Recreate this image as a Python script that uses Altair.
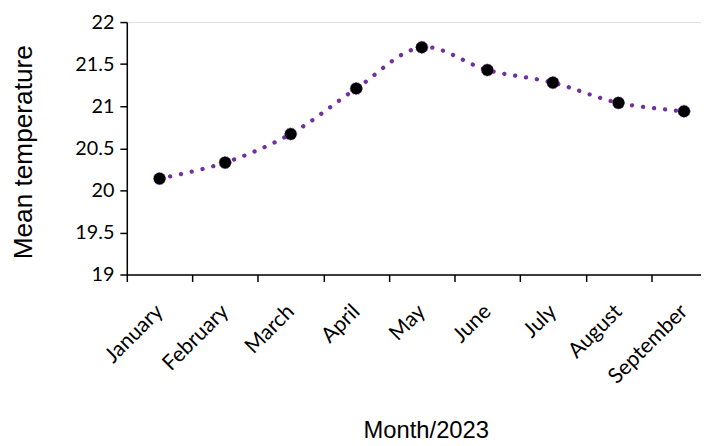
import altair as alt
import pandas as pd

months = ["January", "February", "March", "April", "May", "June", "July", "August", "September"]
temps = [20.14, 20.33, 20.67, 21.21, 21.70, 21.43, 21.28, 21.04, 20.94]

df = pd.DataFrame({"Month": months, "Temp": temps})

x = alt.X("Month:N", sort=months, scale=alt.Scale(paddingInner=0, paddingOuter=0),
          axis=alt.Axis(title="Month/2023", labelAngle=-45, labelAlign="right", labelBaseline="middle",
                        tickBand="extent", tickSize=7, tickColor="black", domainColor="black",
                        labelFont="Lato", labelFontSize=21.5, labelColor="black", labelPadding=27,
                        titleFont="Liberation Sans", titleFontSize=24, titleFontWeight="normal",
                        titleColor="black", titleX=302, titleY=158, titleBaseline="middle",
                        titleAlign="center", grid=False, domainWidth=1.5, tickWidth=1.5))
y = alt.Y("Temp:Q", scale=alt.Scale(domain=[19, 22], nice=False, zero=False),
          axis=alt.Axis(title="Mean temperature", values=[19, 19.5, 20, 20.5, 21, 21.5, 22],
                        format="~g", tickSize=7, tickColor="black", domainColor="black",
                        labelFont="Lato", labelFontSize=20, labelColor="black", labelPadding=6,
                        titleFont="Liberation Sans", titleFontSize=26.5, titleFontWeight="normal",
                        titleColor="black", titleX=-104, titleY=131, titleBaseline="middle",
                        titleAlign="center", grid=False, domainWidth=1.5, tickWidth=1.5))

line = alt.Chart(df).mark_line(color="#7030A0", strokeWidth=4.3, strokeCap="round",
                               strokeDash=[0.1, 11], interpolate="catmull-rom").encode(x=x, y=y)
pts = alt.Chart(df).mark_point(filled=True, color="black", size=150, opacity=1,
                               stroke="#7030A0", strokeWidth=0.8, strokeDash=[1.5, 1.5]).encode(x=x, y=y)

chart = (line + pts).properties(
    width=596, height=255,
    autosize=alt.AutoSizeParams(type="none"),
    padding={"left": 120, "top": 12, "right": -16, "bottom": 171},
).configure_view(stroke=None).configure(background="white")

chart.save("out.html", embed_options={"renderer": "svg", "actions": False})
